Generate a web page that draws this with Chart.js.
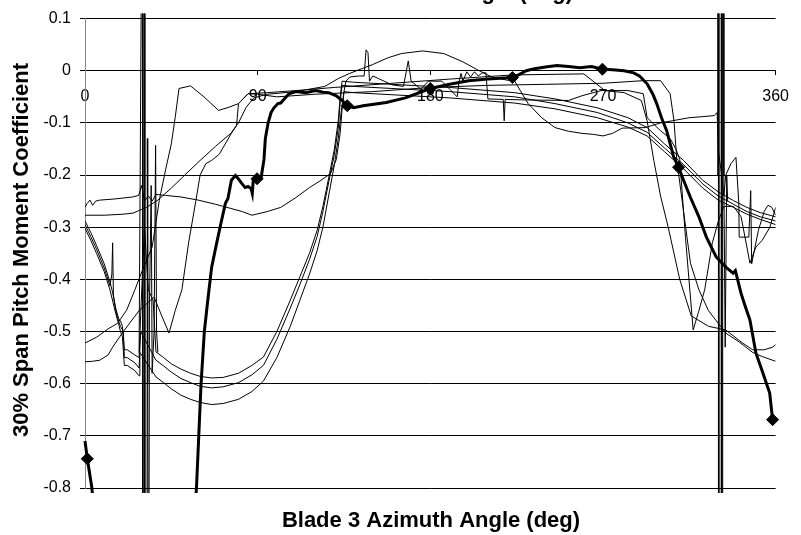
<!DOCTYPE html>
<html>
<head>
<meta charset="utf-8">
<script src="https://cdn.jsdelivr.net/npm/chart.js@4.4.1/dist/chart.umd.min.js"></script>
<style>
  html, body { margin: 0; padding: 0; background: #fff; }
  #chart { display: block; }
</style>
</head>
<body>
<canvas id="chart" width="801" height="535"></canvas>
<script>
// tick positions
var xTickValues = [0, 90, 180, 270, 360];
var yTickValues = [0.1, 0, -0.1, -0.2, -0.3, -0.4, -0.5, -0.6, -0.7, -0.8];
var xTitle = "Blade 3 Azimuth Angle (deg)";
var yTitle = "30% Span Pitch Moment Coefficient";

// measured (thick) curve, [azimuth, coefficient]
var measured = [[0,-0.71],[1.2,-0.744],[3.6,-0.80],[6,-0.9],[20,-1.3],[45,-1.3],[55,-0.95],[58.1,-0.80],[59.3,-0.70],[60.5,-0.60],[62.2,-0.50],[64,-0.44],[66,-0.377],[68.6,-0.331],[71,-0.29],[73.2,-0.254],[74.5,-0.245],[76.3,-0.21],[78.4,-0.201],[79.9,-0.207],[81.5,-0.215],[83.5,-0.224],[85,-0.222],[86.6,-0.226],[87.2,-0.235],[87.7,-0.21],[89.7,-0.207],[91.8,-0.205],[93.3,-0.17],[94,-0.13],[95.4,-0.101],[97,-0.08],[98.5,-0.071],[100.5,-0.063],[102,-0.062],[103.2,-0.057],[106.3,-0.044],[110,-0.040],[115,-0.042],[120.3,-0.038],[124,-0.041],[127,-0.042],[131,-0.048],[134,-0.057],[136.7,-0.067],[140,-0.071],[145,-0.067],[157,-0.061],[167,-0.052],[180,-0.034],[190,-0.026],[200,-0.019],[210,-0.016],[222.8,-0.013],[226,-0.008],[230,0.0],[234.3,0.004],[240,0.007],[246,0.010],[252,0.008],[258,0.006],[264,0.008],[269.7,0.003],[275,0.002],[281,0.0],[286,-0.004],[289,-0.01],[293,-0.025],[296,-0.045],[298,-0.063],[300.5,-0.09],[303.2,-0.115],[306.9,-0.166],[309.4,-0.185],[312,-0.21],[315.6,-0.243],[320,-0.28],[323.9,-0.319],[329,-0.357],[334.2,-0.377],[337.8,-0.388],[339,-0.383],[341.9,-0.426],[344,-0.45],[346.6,-0.478],[349.7,-0.541],[353.3,-0.579],[356.9,-0.618],[358.4,-0.669]];
var measuredMarks = [[1.2,-0.744],[89.7,-0.207],[136.7,-0.067],[180,-0.034],[222.8,-0.013],[269.7,0.003],[309.4,-0.185],[358.4,-0.669]];

// predicted curves
var predA = [[0,-0.288],[3,-0.31],[6,-0.335],[10,-0.37],[13,-0.405],[14.4,-0.425],[16,-0.455],[17.5,-0.475],[18.5,-0.48],[19.5,-0.49],[20.5,-0.535],[22,-0.535],[24,-0.54],[26,-0.545],[28.2,-0.55],[29,-0.47],[31,-0.3],[33,-0.42],[35.5,-0.44],[37,-0.539],[41,-0.55],[45,-0.562],[50,-0.572],[55,-0.58],[60,-0.586],[66,-0.589],[72,-0.588],[80,-0.58],[87,-0.565],[93,-0.549],[100,-0.5],[107,-0.44],[112,-0.395],[117,-0.35],[121,-0.306],[124,-0.26],[127.5,-0.197],[130,-0.15],[132,-0.096],[133,-0.05],[134,-0.02],[140,-0.022],[160,-0.026],[190,-0.032],[224,-0.042],[245,-0.054],[267,-0.071],[283,-0.09],[293,-0.109],[302,-0.14],[312,-0.172],[322,-0.21],[330,-0.232],[338,-0.249],[345,-0.262],[352,-0.272],[360,-0.28]];
var predB = [[0,-0.295],[3,-0.318],[6,-0.342],[10,-0.378],[13,-0.412],[14,-0.39],[14.4,-0.33],[14.8,-0.43],[16,-0.46],[17.5,-0.48],[18.5,-0.49],[20,-0.5],[20.5,-0.55],[22,-0.55],[24,-0.555],[26,-0.56],[28.2,-0.57],[29,-0.5],[37,-0.555],[41,-0.566],[45,-0.578],[50,-0.59],[55,-0.598],[60,-0.605],[66,-0.608],[72,-0.606],[80,-0.598],[87,-0.583],[93,-0.565],[100,-0.515],[107,-0.455],[112,-0.41],[117,-0.362],[121,-0.318],[124,-0.27],[127.5,-0.205],[130,-0.16],[132,-0.11],[133,-0.06],[134,-0.028],[140,-0.03],[160,-0.034],[190,-0.04],[224,-0.05],[245,-0.063],[267,-0.08],[283,-0.1],[293,-0.118],[302,-0.148],[312,-0.18],[322,-0.217],[330,-0.24],[338,-0.256],[345,-0.27],[352,-0.28],[360,-0.288]];
var predC = [[0,-0.302],[3,-0.325],[6,-0.35],[10,-0.385],[13,-0.42],[16,-0.465],[17.5,-0.485],[18.5,-0.5],[19.5,-0.51],[20.5,-0.565],[22,-0.565],[24,-0.57],[26,-0.575],[28.2,-0.585],[28.6,-0.54],[37,-0.587],[41,-0.598],[45,-0.61],[50,-0.622],[55,-0.63],[60,-0.636],[66,-0.64],[72,-0.638],[80,-0.63],[87,-0.615],[93,-0.595],[100,-0.55],[107,-0.49],[112,-0.44],[117,-0.39],[121,-0.345],[124,-0.3],[127.5,-0.23],[130,-0.18],[132,-0.13],[133.5,-0.08],[135,-0.04],[140,-0.042],[160,-0.046],[190,-0.052],[224,-0.062],[245,-0.073],[267,-0.09],[283,-0.108],[293,-0.125],[302,-0.155],[312,-0.188],[322,-0.225],[330,-0.248],[338,-0.262],[345,-0.275],[352,-0.285],[360,-0.295]];
var predD = [[0,-0.522],[6,-0.511],[12,-0.495],[17,-0.484],[21.7,-0.459],[26,-0.42],[30,-0.382],[35,-0.338],[38.7,-0.249],[42,-0.19],[45,-0.14],[47,-0.09],[49,-0.034],[55,-0.029],[62,-0.05],[69.6,-0.076],[75,-0.07],[80,-0.063],[85,-0.044],[95,-0.042],[110,-0.038],[130,-0.032],[160,-0.024],[190,-0.016],[223,-0.008],[260,-0.006],[271,-0.038],[281,-0.042],[290,-0.057],[293,-0.096],[296.5,-0.172],[300,-0.24],[304,-0.3],[310,-0.4],[316,-0.47],[325,-0.49],[334,-0.497],[342,-0.52],[348,-0.535],[354,-0.535],[358.4,-0.53],[360,-0.525]];
var predE = [[0,-0.558],[4,-0.557],[7.7,-0.555],[12,-0.545],[14.4,-0.53],[20,-0.5],[28.4,-0.459],[36,-0.434],[40,-0.47],[43.8,-0.503],[47,-0.46],[50.5,-0.42],[54,-0.33],[57.8,-0.249],[60,-0.2],[63,-0.178],[66,-0.172],[70,-0.16],[76.3,-0.12],[79,-0.105],[80,-0.063],[85,-0.044],[90,-0.045],[100,-0.05],[120,-0.045],[150,-0.04],[180,-0.032],[210,-0.028],[240,-0.026],[270,-0.024],[291,-0.019],[300,-0.019],[305,-0.044],[307,-0.096],[308.5,-0.172],[312,-0.27],[315.6,-0.369],[320,-0.42],[325,-0.46],[334,-0.503],[341,-0.52],[348,-0.54],[353,-0.548],[358.4,-0.555],[360,-0.557]];
var predF = [[0,-0.277],[10,-0.277],[20,-0.275],[25,-0.273],[32,-0.262],[38,-0.248],[45,-0.225],[52,-0.2],[60,-0.172],[68,-0.145],[76,-0.12],[80,-0.1],[84,-0.07],[88,-0.052],[95,-0.045],[110,-0.04],[125,-0.03],[132,-0.015],[138,-0.005],[145,0.005],[150,0.012],[158,0.025],[165,0.033],[176,0.038],[187,0.033],[197,0.017],[204,0.003],[212,-0.012],[220,-0.018],[224,-0.02],[228,-0.045],[231,-0.063],[238,-0.09],[245,-0.109],[252,-0.116],[259,-0.12],[265,-0.122],[270,-0.125],[275,-0.12],[280,-0.11],[292,-0.109],[300,-0.1],[306,-0.096],[315,-0.09],[322,-0.088],[328,-0.086],[329.5,-0.08],[330.2,-0.155],[331.5,-0.19],[333,-0.24],[334,-0.2],[336.7,-0.178],[339.3,-0.166],[340.8,-0.254],[341,-0.319],[346,-0.319],[347,-0.23],[347.5,-0.37],[351,-0.306],[354,-0.27],[356,-0.258],[358,-0.262],[360,-0.277]];
var predG = [[0,-0.262],[1,-0.255],[2.6,-0.248],[4,-0.258],[5.5,-0.25],[7.7,-0.248],[15,-0.246],[24.8,-0.242],[28,-0.239],[29.5,-0.22],[31,-0.25],[33,-0.24],[35,-0.25],[37,-0.237],[42,-0.239],[50,-0.242],[59,-0.248],[68,-0.256],[76,-0.264],[82,-0.27],[87,-0.277],[95,-0.27],[102,-0.262],[110,-0.243],[117,-0.224],[123,-0.21],[128,-0.197],[131,-0.17],[133,-0.12],[134,-0.075],[135,-0.04],[136,-0.02],[138,-0.012],[143,-0.01],[145.5,-0.01],[146.5,0.04],[147.5,0.035],[148.3,-0.02],[150,-0.01],[153,-0.015],[160,-0.027],[166,-0.03],[168.5,0.019],[170,-0.02],[175,-0.035],[179,-0.02],[186,-0.02],[194,-0.05],[195,-0.02],[196,-0.005],[197,-0.02],[199,-0.002],[201,-0.012],[203,-0.002],[205,-0.01],[207,-0.004],[209,-0.004],[210,-0.054],[218,-0.055],[218.5,-0.096],[219,-0.055],[230,-0.056],[252,-0.057],[259,-0.048],[269,-0.038],[283,-0.038],[291,-0.044],[293,-0.09],[300,-0.115],[305,-0.13],[308,-0.15],[310,-0.17],[313,-0.32],[317,-0.497],[320,-0.46],[323,-0.42],[327,-0.33],[330,-0.29],[333,-0.26],[338,-0.26],[342,-0.28],[346.6,-0.369],[349.7,-0.338],[353,-0.325],[357,-0.3],[360,-0.262]];
var spikesLeft = [[28.2,-0.54],[29.9,0.5],[30.1,0.5],[30.1,-1.2],[30.6,-1.2],[30.7,0.5],[31.1,0.5],[31.2,-1.2],[32.3,-1.2],[32.5,-0.13],[32.7,-0.6],[33.2,-1.2],[33.6,-0.45],[34.5,-0.22],[35,-0.58],[36,-0.5],[36.8,-0.143],[37.3,-0.5],[38,-0.54]];
var spikesRight = [[329.5,-0.2],[329.8,0.5],[330.2,0.5],[330.2,-1.2],[330.8,-1.2],[330.9,0.5],[331.8,0.5],[331.9,-1.2],[332.3,-1.2],[332.4,0.5],[332.8,0.5],[333,-0.2],[333.7,-0.53],[334.5,-0.2],[335,-0.25]];

var thinSeries = [predA, predB, predC, predD, predE, predF, predG, spikesLeft, spikesRight];

function toPoints(arr) {
  return arr.map(function (p) { return { x: p[0], y: p[1] }; });
}

var font = '"Liberation Sans", Arial, sans-serif';

var datasets = [{
  data: toPoints(measuredMarks),
  showLine: false,
  pointStyle: 'rectRot',
  pointRadius: 6,
  backgroundColor: '#000',
  borderColor: '#000',
  clip: false
}, {
  data: toPoints(measured),
  showLine: true,
  borderColor: '#000',
  borderWidth: 3,
  pointRadius: 0,
  clip: { left: 2, top: 5, right: 2, bottom: 5 }
}];
thinSeries.forEach(function (s) {
  datasets.push({
    data: toPoints(s),
    showLine: true,
    borderColor: '#000',
    borderWidth: 1,
    pointRadius: 0,
    clip: { left: 0, top: 5, right: 0, bottom: 5 }
  });
});

var titles = {
  id: 'titles',
  afterDraw: function (chart) {
    var ctx = chart.ctx;
    ctx.save();
    ctx.fillStyle = '#000';
    ctx.font = 'bold 22px ' + font;
    ctx.textAlign = 'center';
    ctx.textBaseline = 'alphabetic';
    ctx.fillText(xTitle, 424, -1);
    ctx.fillText(xTitle, 431, 527);
    ctx.translate(28, 250);
    ctx.rotate(-Math.PI / 2);
    ctx.fillText(yTitle, 0, 0);
    ctx.restore();
  }
};

var ctx = document.getElementById("chart");
var chart = new Chart(ctx, {
  type: 'scatter',
  data: { datasets: datasets },
  options: {
    responsive: false,
    animation: false,
    devicePixelRatio: 1,
    elements: { line: { tension: 0 } },
    layout: { padding: { left: 0, top: 17, right: 18, bottom: 47 } },
    plugins: { legend: { display: false }, tooltip: { enabled: false } },
    scales: {
      x: {
        type: 'linear',
        position: { y: 0 },
        min: 0,
        max: 360,
        afterBuildTicks: function (s) { s.ticks = xTickValues.map(function (v) { return { value: v }; }); },
        grid: { drawOnChartArea: false, tickLength: 4, color: '#000' },
        border: { color: '#000', width: 1 },
        ticks: { color: '#000', padding: 12, maxRotation: 0, autoSkip: false, font: { family: font, size: 16 } }
      },
      y: {
        type: 'linear',
        min: -0.8,
        max: 0.1,
        afterFit: function (s) { s.width = 85; },
        afterBuildTicks: function (s) { s.ticks = yTickValues.map(function (v) { return { value: v }; }); },
        grid: { color: '#000', tickLength: 5 },
        border: { color: '#888', width: 1 },
        ticks: {
          color: '#000', padding: 9, font: { family: font, size: 16 },
          callback: function (v) { return String(Math.round(v * 10) / 10); }
        }
      }
    }
  },
  plugins: [titles]
});
</script>
</body>
</html>
